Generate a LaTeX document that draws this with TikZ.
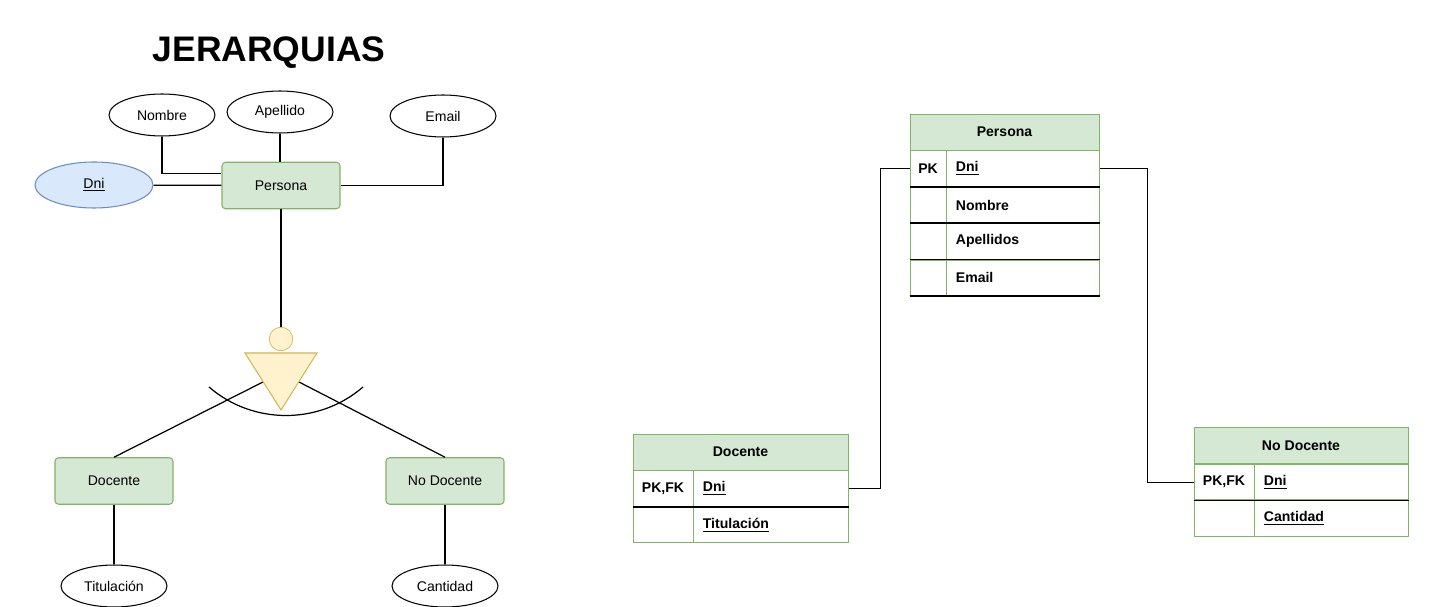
\documentclass[tikz,border=0pt]{standalone}
\usepackage{fontspec}
\setmainfont{Liberation Sans}
\usepackage{xcolor}
\usetikzlibrary{shapes.geometric}
\definecolor{entgreen}{RGB}{213,232,212}
\definecolor{entborder}{RGB}{130,179,102}
\definecolor{keyblue}{RGB}{218,232,252}
\definecolor{keyborder}{RGB}{108,142,191}
\definecolor{isayellow}{RGB}{255,242,204}
\definecolor{isaborder}{RGB}{214,182,86}

\begin{document}
\begin{tikzpicture}[
    x=0.02cm, y=-0.02cm,
    font=\fontsize{8}{9.6}\selectfont,
    entity/.style={rectangle, draw=entborder, fill=entgreen, rounded corners=2pt, minimum width=2.36cm, minimum height=0.93cm, line width=0.6pt},
    attr/.style={ellipse, draw, fill=white, inner sep=0pt, minimum width=2.12cm, minimum height=0.84cm, line width=0.6pt},
    link/.style={line width=0.7pt},
    tabhead/.style={rectangle, draw=entborder, fill=entgreen, minimum height=0.72cm, font=\fontsize{8}{9.6}\selectfont\bfseries, line width=0.5pt},
    keycell/.style={rectangle, draw=entborder, minimum height=0.71cm, inner sep=0pt, font=\fontsize{8}{9.6}\selectfont\bfseries, line width=0.5pt},
    fieldcell/.style={rectangle, draw=entborder, minimum height=0.71cm, inner xsep=0.18cm, inner ysep=0pt, text width=#1, align=left, font=\fontsize{8}{9.6}\selectfont\bfseries, line width=0.5pt},
    rowline/.style={line width=0.8pt}
]
\fill[white] (0,0) rectangle (1435,607);
\useasboundingbox (0,0) rectangle (1435,607);

% ER model (left side)
\node[font=\fontsize{20.2}{24}\selectfont\bfseries, anchor=base] (title) at (269,62) {JERARQUIAS};

\node[entity] (persona) at (281,185.5) {Persona};
\node[attr] (nombre) at (162,115) {Nombre};
\node[attr] (apellido) at (280,112) {Apellido};
\node[attr] (email) at (443,116) {Email};
\node[attr, draw=keyborder, fill=keyblue, minimum width=2.36cm, minimum height=0.92cm] (dni) at (94,185) {\underline{Dni}};

\draw[link] (nombre.south) |- ([yshift=0.24cm]persona.west);
\draw[link] (apellido.south) -- (apellido.south |- persona.north);
\draw[link] (email.south) |- (persona.east);
\draw[link] (dni) -- (persona);

% Specialization
\coordinate (triL) at (263,382);
\coordinate (triR) at (299,382);
\node[entity] (docente) at (114,481) {Docente};
\node[entity] (nodocente) at (445,481) {No Docente};
\draw[link] (triL) -- (docente.north);
\draw[link] (triR) -- (nodocente.north);
\draw[link] (209,387) .. controls (253,425) and (319,425) .. (363,387);
\draw[draw=isaborder, fill=isayellow, line width=0.6pt] (245,353) -- (317,353) -- (281,410) -- cycle;
\node[circle, draw=isaborder, fill=isayellow, minimum size=0.47cm, inner sep=0pt] (isa) at (281,339) {};
\draw[link] (persona.south) -- (isa.north);
\node[fill=white, inner sep=0pt, minimum width=0.08cm, minimum height=0.3cm] (blank) at (284,442) {};

\node[attr] (titulacion) at (114,586) {Titulación};
\node[attr] (cantidad) at (445,586) {Cantidad};
\draw[link] (docente) -- (titulacion);
\draw[link] (nodocente) -- (cantidad);

% Relational model (right side)
\node[tabhead, minimum width=3.78cm] (tPersona) at (1004.5,132) {Persona};
\node[keycell, minimum width=0.72cm, anchor=north west] (kPDni) at (tPersona.south west) {PK};
\node[fieldcell=2.7cm, anchor=north west] (fPDni) at (kPDni.north east) {\underline{Dni}};
\node[keycell, minimum width=0.72cm, anchor=north] (kPNombre) at (kPDni.south) {};
\node[fieldcell=2.7cm, anchor=north] (fPNombre) at (fPDni.south) {Nombre};
\node[keycell, minimum width=0.72cm, anchor=north] (kPApellidos) at (kPNombre.south) {};
\node[fieldcell=2.7cm, anchor=north] (fPApellidos) at (fPNombre.south) {Apellidos};
\node[keycell, minimum width=0.72cm, anchor=north] (kPEmail) at (kPApellidos.south) {};
\node[fieldcell=2.7cm, anchor=north] (fPEmail) at (fPApellidos.south) {Email};
\foreach \r in {Dni,Nombre,Apellidos,Email}
    \draw[rowline] (kP\r.south west) -- (fP\r.south east);

\node[tabhead, minimum width=4.3cm] (tDocente) at (740.5,452) {Docente};
\node[keycell, minimum width=1.2cm, anchor=north west] (kDDni) at (tDocente.south west) {PK,FK};
\node[fieldcell=2.74cm, anchor=north west] (fDDni) at (kDDni.north east) {\underline{Dni}};
\node[keycell, minimum width=1.2cm, anchor=north] (kDTitulacion) at (kDDni.south) {};
\node[fieldcell=2.74cm, anchor=north] (fDTitulacion) at (fDDni.south) {\underline{Titulación}};
\draw[rowline] (kDDni.south west) -- (fDDni.south east);

\node[tabhead, minimum width=4.28cm] (tNoDocente) at (1301,445.5) {No Docente};
\node[keycell, minimum width=1.2cm, anchor=north west] (kNDni) at (tNoDocente.south west) {PK,FK};
\node[fieldcell=2.72cm, anchor=north west] (fNDni) at (kNDni.north east) {\underline{Dni}};
\node[keycell, minimum width=1.2cm, anchor=north] (kNCantidad) at (kNDni.south) {};
\node[fieldcell=2.72cm, anchor=north] (fNCantidad) at (fNDni.south) {\underline{Cantidad}};
\draw[rowline] (kNDni.south west) -- (fNDni.south east);

\draw[link] (fDDni.east) -- ++(31,0) |- (kPDni.west);
\draw[link] (fPDni.east) -- ++(47,0) |- (kNDni.west);

\end{tikzpicture}
\end{document}
